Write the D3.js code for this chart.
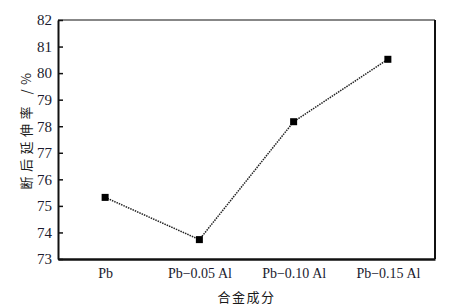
<!DOCTYPE html>
<html>
<head>
<meta charset="utf-8">
<script src="https://cdn.jsdelivr.net/npm/d3@7"></script>
<style>
  body { margin: 0; background: #fff; }
</style>
</head>
<body>
<div id="chart"></div>
<script>
// data
var alloys = ["Pb", "Pb\u22120.05\u2009Al", "Pb\u22120.10\u2009Al", "Pb\u22120.15\u2009Al"];
var elongation = [75.32, 73.73, 78.17, 80.52];
var yTicks = [73, 74, 75, 76, 77, 78, 79, 80, 81, 82];

function init() {
    var width = 456;
    var height = 308;
    var margin = { top: 20, right: 21, bottom: 49, left: 58 };

    var svg = d3.select("#chart")
        .append("svg")
        .attr("width", width)
        .attr("height", height);

    var x = d3.scalePoint()
        .domain(alloys)
        .range([margin.left, width - margin.right])
        .padding(0.5);

    var y = d3.scaleLinear()
        .domain([73, 82])
        .range([height - margin.bottom, margin.top]);

    var x0 = margin.left, x1 = width - margin.right;
    var y0 = height - margin.bottom, y1 = margin.top;

    // frame: top thin, right heavier
    svg.append("line").attr("x1", x0).attr("x2", x1).attr("y1", y1).attr("y2", y1)
        .attr("stroke", "#111").attr("stroke-width", 1.2);
    svg.append("line").attr("x1", x1).attr("x2", x1).attr("y1", y1).attr("y2", y0)
        .attr("stroke", "#111").attr("stroke-width", 2);

    // y axis, ticks pointing inward
    var yAxis = d3.axisLeft(y)
        .tickValues(yTicks)
        .tickSizeInner(-5)
        .tickSizeOuter(0)
        .tickPadding(6)
        .tickFormat(d3.format("d"));

    var gy = svg.append("g")
        .attr("transform", "translate(" + x0 + ",0)")
        .call(yAxis);
    gy.select(".domain").attr("stroke", "#111").attr("stroke-width", 2);
    gy.selectAll(".tick line").attr("stroke", "#111").attr("stroke-width", 1.5);
    gy.selectAll(".tick text")
        .style("font-family", "Liberation Serif")
        .style("font-size", "15px")
        .attr("fill", "#1a1a2e");

    // x axis without ticks
    var xAxis = d3.axisBottom(x).tickSize(0).tickPadding(9);
    var gx = svg.append("g")
        .attr("transform", "translate(0," + y0 + ")")
        .call(xAxis);
    gx.select(".domain").attr("stroke", "#111").attr("stroke-width", 2.5);
    gx.selectAll(".tick text")
        .style("font-family", "Liberation Serif")
        .style("font-size", "14px")
        .attr("fill", "#1a1a2e");

    // dotted line
    var line = d3.line()
        .x(function (d, i) { return x(alloys[i]); })
        .y(function (d) { return y(d); });

    svg.append("path")
        .datum(elongation)
        .attr("d", line)
        .attr("fill", "none")
        .attr("stroke", "#222")
        .attr("stroke-width", 1.5)
        .attr("stroke-dasharray", "1.5,1");

    // square markers
    svg.selectAll(".pt")
        .data(elongation)
        .enter()
        .append("rect")
        .attr("class", "pt")
        .attr("x", function (d, i) { return x(alloys[i]) - 3.5; })
        .attr("y", function (d) { return y(d) - 3.5; })
        .attr("width", 7)
        .attr("height", 7)
        .attr("fill", "#000");

    // axis titles
    svg.append("text")
        .attr("x", (x0 + x1) / 2)
        .attr("y", 302)
        .attr("text-anchor", "middle")
        .attr("fill", "#1a1a1a")
        .style("font-family", "Noto Sans CJK SC")
        .style("font-size", "13px")
        .style("letter-spacing", "1.5px")
        .text("合金成分");

    svg.append("text")
        .attr("transform", "translate(31,129) rotate(-90)")
        .attr("text-anchor", "middle")
        .attr("fill", "#1a1a1a")
        .style("font-family", "Noto Sans CJK SC")
        .style("font-size", "13px")
        .style("letter-spacing", "4.5px")
        .text("断后延伸率 /%");
}

window.onload = init;
</script>
</body>
</html>
